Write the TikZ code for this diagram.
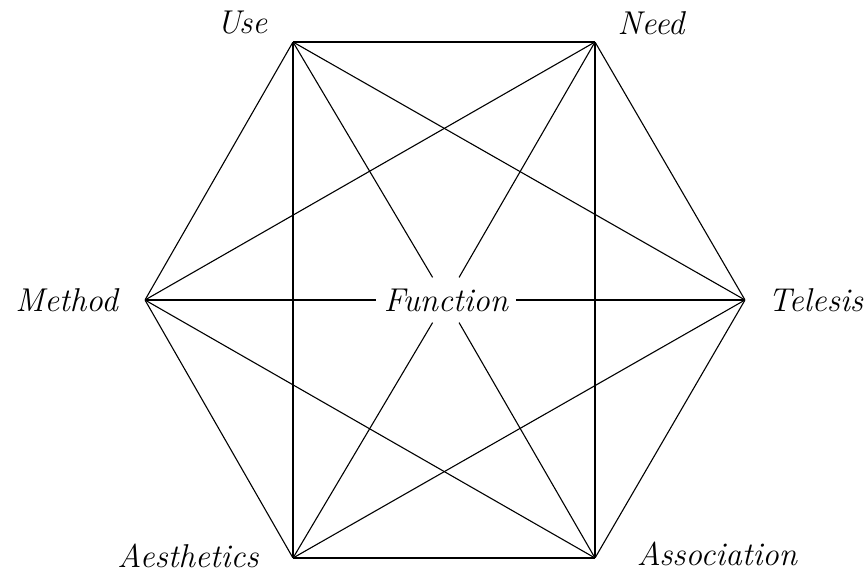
\documentclass[tikz,border=0pt]{standalone}
\usetikzlibrary{positioning}

\tikzset{
  vtx/.style={inner sep=0pt, minimum size=0pt},
  lbl/.style={font=\fontsize{33}{38}\selectfont\itshape, inner sep=0pt},
  edge/.style={line width=1.1pt, black}
}

\begin{document}
\begin{tikzpicture}[x=1pt, y=-1pt]
  \useasboundingbox (0,0) rectangle (864,572);
  % Corners of the hexagon
  \node[vtx] (use)    at (293,42)  {};
  \node[vtx] (need)   at (595,42)  {};
  \node[vtx] (telesis) at (745,300) {};
  \node[vtx] (assoc)  at (595,558) {};
  \node[vtx] (aesth)  at (293,558) {};
  \node[vtx] (method) at (145,300) {};
  % Centre
  \node[lbl, inner xsep=7.5pt, inner ysep=11pt] (fn) at (446,300) {Function};
  % Labels
  \node[lbl, anchor=base] (usel)    at (242,34)  {Use};
  \node[lbl, anchor=base] (needl)   at (651,35)  {Need};
  \node[lbl, anchor=east] (methodl) at (118,300) {Method};
  \node[lbl, anchor=west] (telesisl) at (768,300) {Telesis};
  \node[lbl, anchor=base] (aesthl)  at (188,567) {Aesthetics};
  \node[lbl, anchor=base] (assocl)  at (717,565) {Association};
  % Sides and short diagonals
  \foreach \a/\b in {use/need, need/telesis, telesis/assoc, assoc/aesth, aesth/method, method/use,
                     use/telesis, need/assoc, telesis/aesth, assoc/method, aesth/use, method/need} {
    \draw[edge] (\a) -- (\b);
  }
  % Long diagonals, broken by the centre label
  \foreach \a/\b in {use/assoc, need/aesth, method/telesis} {
    \draw[edge] (\a) -- (fn) -- (\b);
  }
\end{tikzpicture}
\end{document}
